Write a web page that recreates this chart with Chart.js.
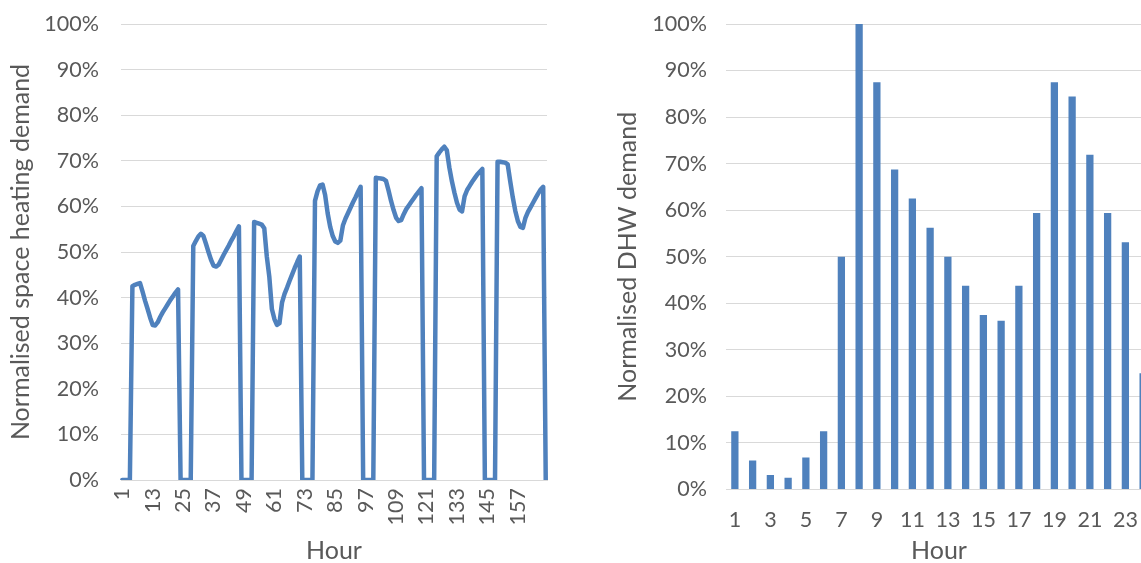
<!DOCTYPE html>
<html>
<head>
<meta charset="utf-8">
<script src="https://cdn.jsdelivr.net/npm/chart.js@4/dist/chart.umd.min.js"></script>
<style>
  html, body { margin: 0; padding: 0; background: #fff; overflow: hidden; }
  body { width: 1141px; height: 563px; position: relative; }
  .box { position: absolute; top: 0; height: 563px; }
  #heatBox { left: 0; width: 560px; }
  #dhwBox { left: 600px; width: 552px; }
</style>
</head>
<body>
<div class="box" id="heatBox"><canvas id="heat"></canvas></div>
<div class="box" id="dhwBox"><canvas id="dhw"></canvas></div>
<script>
// Weekly space heating profile, % of peak, one value per hour (1..168)
const heatHours = [];
for (let h = 1; h <= 168; h++) heatHours.push(String(h));
const heatDemand = [
  0, 0, 0, 0, 42.5, 42.8, 43.0, 43.2, 41.3, 39.3, 37.5, 35.6, 34.0, 33.9, 34.6, 35.8, 36.8, 37.7, 38.6, 39.5, 40.3, 41.1, 41.8, 0,
  0, 0, 0, 0, 51.3, 52.4, 53.4, 54.0, 53.5, 51.8, 50.0, 48.3, 47.0, 46.8, 47.2, 48.3, 49.4, 50.4, 51.4, 52.5, 53.5, 54.6, 55.6, 0,
  0, 0, 0, 0, 56.6, 56.4, 56.2, 56.0, 55.2, 49.0, 44.5, 37.5, 35.3, 34.0, 34.4, 38.9, 40.8, 42.2, 43.7, 45.1, 46.5, 47.8, 49.0, 0,
  0, 0, 0, 0, 61.2, 63.3, 64.6, 64.8, 62.5, 58.5, 55.5, 53.5, 52.3, 52.0, 52.5, 55.8, 57.3, 58.5, 59.7, 60.9, 62.0, 63.2, 64.3, 0,
  0, 0, 0, 0, 66.3, 66.2, 66.1, 66.0, 65.6, 63.5, 61.2, 59.2, 57.5, 56.8, 57.0, 58.3, 59.4, 60.2, 61.0, 61.8, 62.6, 63.3, 64.0, 0,
  0, 0, 0, 0, 71.0, 71.8, 72.5, 73.1, 72.3, 68.5, 65.5, 63.0, 60.8, 59.3, 58.9, 62.2, 63.6, 64.5, 65.4, 66.2, 67.0, 67.6, 68.2, 0,
  0, 0, 0, 0, 69.8, 69.8, 69.7, 69.6, 69.2, 65.5, 62.0, 59.0, 56.8, 55.5, 55.3, 57.5, 58.8, 59.8, 60.8, 61.8, 62.8, 63.7, 64.3, 0
];

// Daily domestic hot water profile, % of peak hour
const dhwHours = ['1','2','3','4','5','6','7','8','9','10','11','12','13','14','15','16','17','18','19','20','21','22','23','24'];
const dhwDemand = [12.5, 6.25, 3.1, 2.5, 6.9, 12.5, 50, 100, 87.5, 68.75, 62.5, 56.25, 50, 43.75, 37.5, 36.25, 43.75, 59.4, 87.5, 84.4, 71.9, 59.4, 53.1, 25];

const percentTicks = ['0%','10%','20%','30%','40%','50%','60%','70%','80%','90%','100%'];

const BLUE = '#4F81BD';
const TEXT = '#595959';
const GRID = '#D9D9D9';
const FONT = 'Lato, "Open Sans", sans-serif';
const TICK_SIZE = 21.5;
const TITLE_SIZE = 25;

Chart.defaults.font.family = FONT;
Chart.defaults.color = TEXT;
Chart.defaults.animation = false;
Chart.defaults.responsive = true;
Chart.defaults.maintainAspectRatio = false;

// Fixed axis boxes so the plot area is set by the layout padding alone
function fixBox(size, key) {
  return (s) => {
    s[key] = size;
    s.paddingTop = 0; s.paddingBottom = 0; s.paddingLeft = 0; s.paddingRight = 0;
  };
}

function yAxis(title, width, pad, titlePad) {
  return {
    min: 0, max: 100,
    ticks: {
      stepSize: 10, padding: pad,
      font: { size: TICK_SIZE }, color: TEXT,
      callback: (v) => percentTicks[Math.round(v / 10)]
    },
    grid: { color: GRID, lineWidth: 1, drawTicks: false },
    border: { display: false },
    title: { display: true, text: title, font: { size: TITLE_SIZE, lineHeight: 1.2 }, color: TEXT, padding: { top: titlePad, bottom: 0 } },
    afterFit: fixBox(width, 'width')
  };
}

function hourTitle() {
  return { display: true, text: 'Hour', font: { size: TITLE_SIZE, lineHeight: 1.0 }, color: TEXT, padding: { top: 0, bottom: 0 } };
}

new Chart(document.getElementById('heat'), {
  type: 'line',
  data: {
    labels: heatHours,
    datasets: [{
      data: heatDemand,
      borderColor: BLUE,
      borderWidth: 4.5,
      pointRadius: 0,
      tension: 0,
      borderJoinStyle: 'round',
      borderCapStyle: 'round',
      fill: false
    }]
  },
  options: {
    layout: { padding: { top: 24, right: 13, bottom: 0, left: 0 } },
    plugins: { legend: { display: false }, tooltip: { enabled: false } },
    scales: {
      x: {
        offset: true,
        grid: { display: false, drawTicks: false },
        border: { display: true, color: GRID, width: 1 },
        ticks: {
          autoSkip: false, maxRotation: 90, minRotation: 90, padding: 8,
          font: { size: TICK_SIZE }, color: TEXT,
          callback: function (v, i) { return i % 12 === 0 ? heatHours[i] : ''; }
        },
        title: hourTitle(),
        afterFit: fixBox(83, 'height')
      },
      y: yAxis('Normalised space heating demand', 121, 22, 6)
    }
  }
});

new Chart(document.getElementById('dhw'), {
  type: 'bar',
  data: {
    labels: dhwHours,
    datasets: [{
      data: dhwDemand,
      backgroundColor: BLUE,
      borderWidth: 0,
      categoryPercentage: 1,
      barPercentage: 0.41
    }]
  },
  options: {
    layout: { padding: { top: 24, right: 0, bottom: 0, left: 0 } },
    plugins: { legend: { display: false }, tooltip: { enabled: false } },
    scales: {
      x: {
        grid: { display: false, drawTicks: false },
        border: { display: true, color: GRID, width: 1 },
        ticks: {
          autoSkip: false, maxRotation: 0, minRotation: 0, padding: 18,
          font: { size: TICK_SIZE }, color: TEXT,
          callback: function (v, i) { return i % 2 === 0 ? dhwHours[i] : ''; }
        },
        title: hourTitle(),
        afterFit: fixBox(73.5, 'height')
      },
      y: yAxis('Normalised DHW demand', 126, 19, 13)
    }
  }
});
</script>
</body>
</html>
